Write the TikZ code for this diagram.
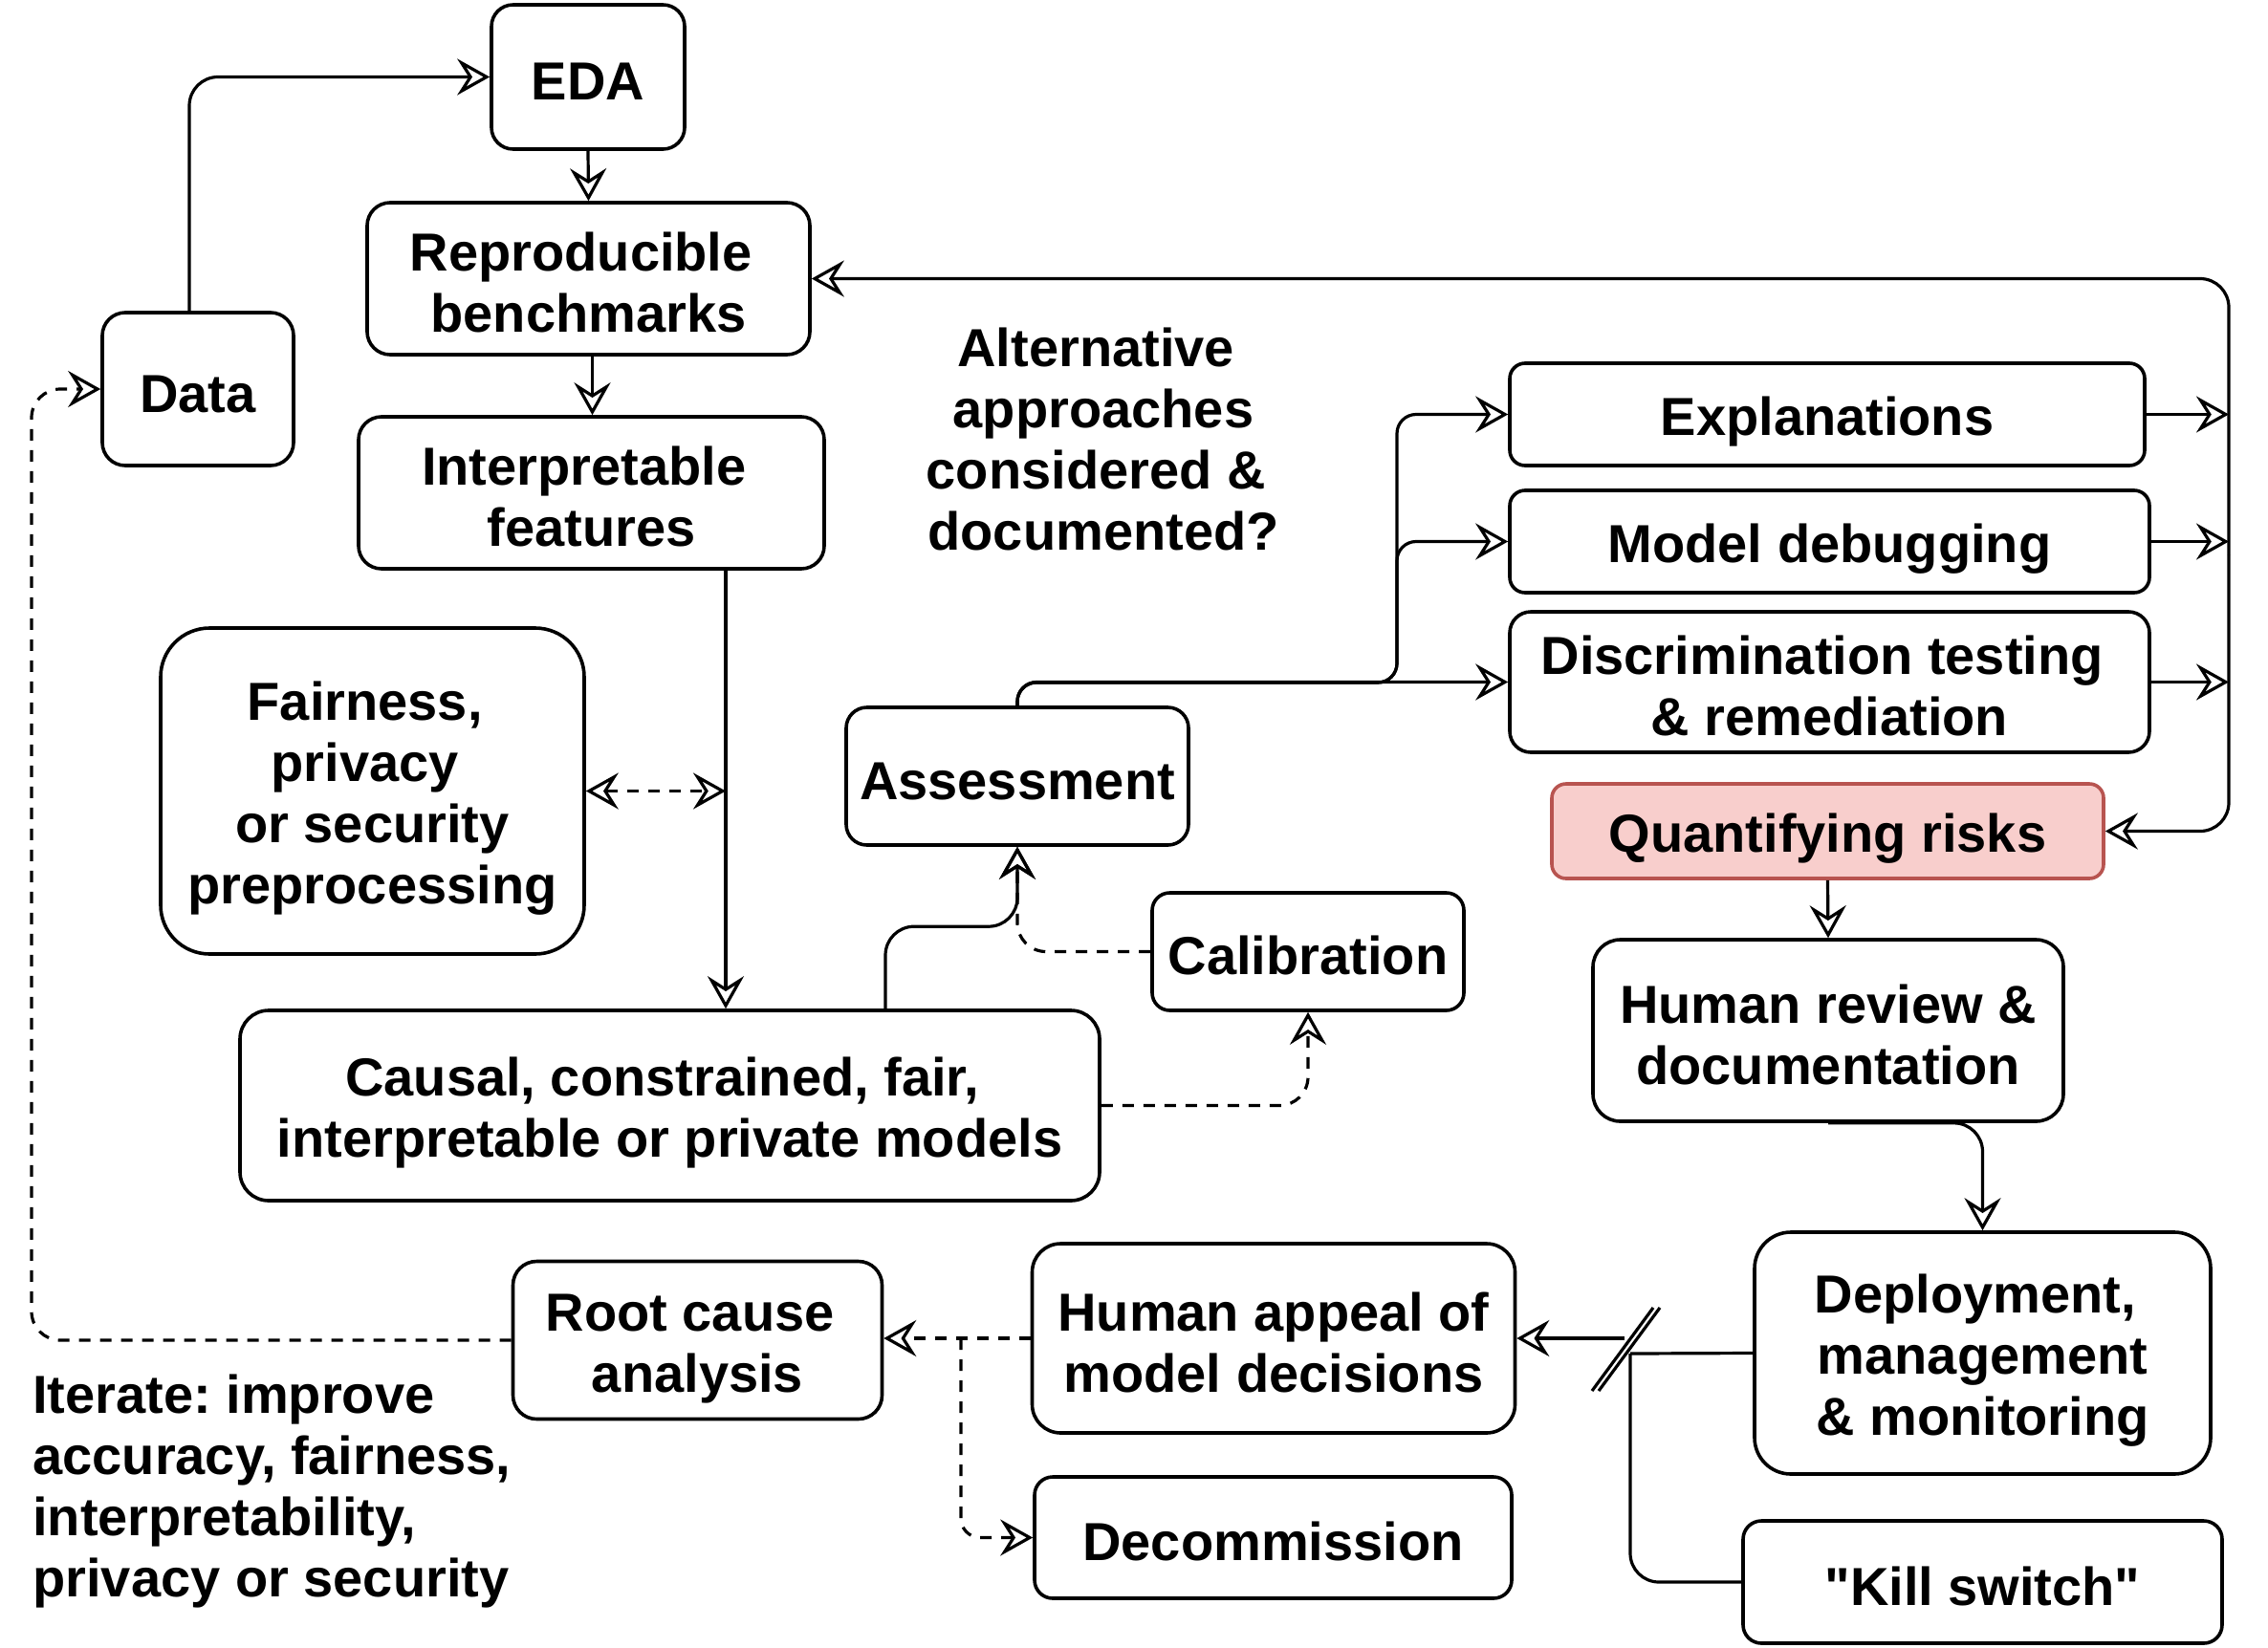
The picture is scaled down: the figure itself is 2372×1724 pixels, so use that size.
\documentclass[tikz,border=0pt]{standalone}
\usepackage{fontspec}
\setmainfont{Liberation Sans}[Ligatures=TeXOff]
\usetikzlibrary{arrows.meta}
\definecolor{riskfill}{HTML}{F8CECC}
\definecolor{riskdraw}{HTML}{B85450}
\newcommand\boxstrut{\rule[-4pt]{0pt}{32pt}}
\newcommand\wrapsp{\rule{.278em}{0pt}}
\frenchspacing
\tikzset{
  hollow/.tip={Stealth[open, length=17pt, width=19pt, inset=6pt]},
  lbl/.style={align=center, inner sep=0pt, font=\fontsize{28}{32}\selectfont\bfseries,
    execute at begin node=\boxstrut},
  box/.style={lbl, draw=black, line width=1.8pt, rounded corners=#1},
  box/.default=12pt,
  conn/.style={line width=1.6pt, -hollow},
  dconn/.style={conn, dash pattern=on 6pt off 5pt},
  plain/.style={line width=1.6pt}
}
\begin{document}
\begin{tikzpicture}[x=0.5pt,y=-0.5pt]
\path[use as bounding box, fill=white] (0,0) rectangle (2372,1724);
\node[box=11.3pt, minimum width=101pt, minimum height=75.5pt] (eda) at (615,80.5) {EDA};
\node[box, minimum width=231.5pt, minimum height=79.5pt] (repro) at (615.5,291.5) {\boxstrut Reproducible\wrapsp\\benchmarks};
\node[box, minimum width=100pt, minimum height=80pt] (data) at (207,407) {Data};
\node[box, minimum width=243.5pt, minimum height=79.5pt] (interp) at (618.5,515.5) {\boxstrut Interpretable\wrapsp\\features};
\node[box=8pt, minimum width=332pt, minimum height=53.5pt] (explan) at (1911,433.5) {Explanations};
\node[box=8pt, minimum width=334.5pt, minimum height=53.5pt] (debug) at (1913.5,566.5) {Model debugging};
\node[box=11pt, minimum width=334.5pt, minimum height=73.5pt] (discr) at (1913.5,713.5) {\boxstrut Discrimination testing\wrapsp\\\& remediation};
\node[box=7.4pt, fill=riskfill, draw=riskdraw, minimum width=288.5pt, minimum height=49.5pt] (quant) at (1911.5,869.5) {Quantifying risks};
\node[box=25.6pt, minimum width=221.5pt, minimum height=170.5pt] (fair) at (389.5,827.5) {\boxstrut Fairness,\wrapsp\\privacy\wrapsp\\or security\\preprocessing};
\node[box=10.8pt, minimum width=179pt, minimum height=72pt] (assess) at (1064,812) {Assessment};
\node[box=9.2pt, minimum width=163pt, minimum height=61.5pt] (calib) at (1368,995.5) {Calibration};
\node[box=15pt, minimum width=449.5pt, minimum height=99.5pt] (causal) at (700.5,1156.5) {\boxstrut Causal, constrained, fair,\wrapsp\\interpretable or private models};
\node[box=14.3pt, minimum width=246pt, minimum height=95pt] (review) at (1912,1078) {\boxstrut Human review \&\\documentation};
\node[box=19pt, minimum width=238.5pt, minimum height=126.5pt] (deploy) at (2073.5,1415.5) {\boxstrut Deployment,\wrapsp\\management\\\& monitoring};
\node[box=9.6pt, minimum width=250.5pt, minimum height=64pt] (kill) at (2073.5,1655) {"Kill switch"};
\node[box=14.9pt, minimum width=252.5pt, minimum height=99pt] (appeal) at (1332,1400) {\boxstrut Human appeal of\\model decisions};
\node[box=9.5pt, minimum width=249.5pt, minimum height=63.5pt] (decom) at (1331.5,1608.5) {Decommission};
\node[box=12.4pt, minimum width=193pt, minimum height=82.5pt] (root) at (729.5,1402) {\boxstrut Root cause\wrapsp\\analysis};
\node[lbl] (alt) at (1154,455) {\boxstrut Alternative\wrapsp\\approaches\\considered \&\wrapsp\\documented?};
\node[lbl, align=left, anchor=west] (iter) at (34,1552) {\boxstrut Iterate: improve\\accuracy, fairness,\\interpretability,\\privacy or security};
\coordinate (fb) at (2331,580);
\coordinate (split) at (1461,714);
\coordinate (brkr) at (1705,1416);
\coordinate (brkl) at (1699,1400);
\coordinate (dsplit) at (1005,1400);
\coordinate (loop) at (33,1402);
\draw[conn, rounded corners=15pt] ([xshift=-4.5pt]data.north) |- (eda.west);
\draw[conn] (eda.south) -- (repro.north);
\draw[conn] ([xshift=2pt]repro.south) -- ([xshift=2pt]repro.south |- interp.north);
\draw[conn, rounded corners=15pt] (fb) |- (repro.east);
\draw[conn, rounded corners=15pt] (fb) |- (quant.east);
\draw[conn] (explan.east) -- (explan.east -| fb);
\draw[conn] (debug.east) -- (debug.east -| fb);
\draw[conn] (discr.east) -- (discr.east -| fb);
\draw[conn] ([xshift=70.25pt]interp.south) -- ([xshift=70.25pt]interp.south |- causal.north);
\draw[dconn, hollow-hollow] (fair.east) -- ([xshift=70.25pt]interp.south |- fair.east);
\draw[conn, rounded corners=15pt] ([xshift=112.75pt]causal.north) -- ++(0,-86) -| (assess.south);
\draw[dconn, rounded corners=15pt] (calib.west) -| (assess.south);
\draw[dconn, rounded corners=15pt] (causal.east) -| (calib.south);
\draw[conn, rounded corners=10pt] (assess.north) |- (discr.west);
\draw[conn, rounded corners=10pt] (assess.north) |- (split) |- (debug.west);
\draw[conn, rounded corners=10pt] (assess.north) |- (split) |- (explan.west);
\draw[conn] (quant.south) -- (review.north);
\draw[conn, rounded corners=15pt] (review.south) -| (deploy.north);
\draw[plain] (deploy.west) -- (brkr);
\draw[plain, rounded corners=15pt] (brkr) |- (kill.west);
\draw[conn] (brkl) -- (appeal.east);
\draw[plain] (1665,1455) -- (1729,1368);
\draw[plain] (1672,1455) -- (1736,1368);
\draw[dconn] (appeal.west) -- (appeal.west -| root.east);
\draw[dconn, rounded corners=10pt] (dsplit) |- (decom.west);
\draw[dconn, rounded corners=15pt] (root.west) -- (loop) |- (data.west);
\end{tikzpicture}
\end{document}
